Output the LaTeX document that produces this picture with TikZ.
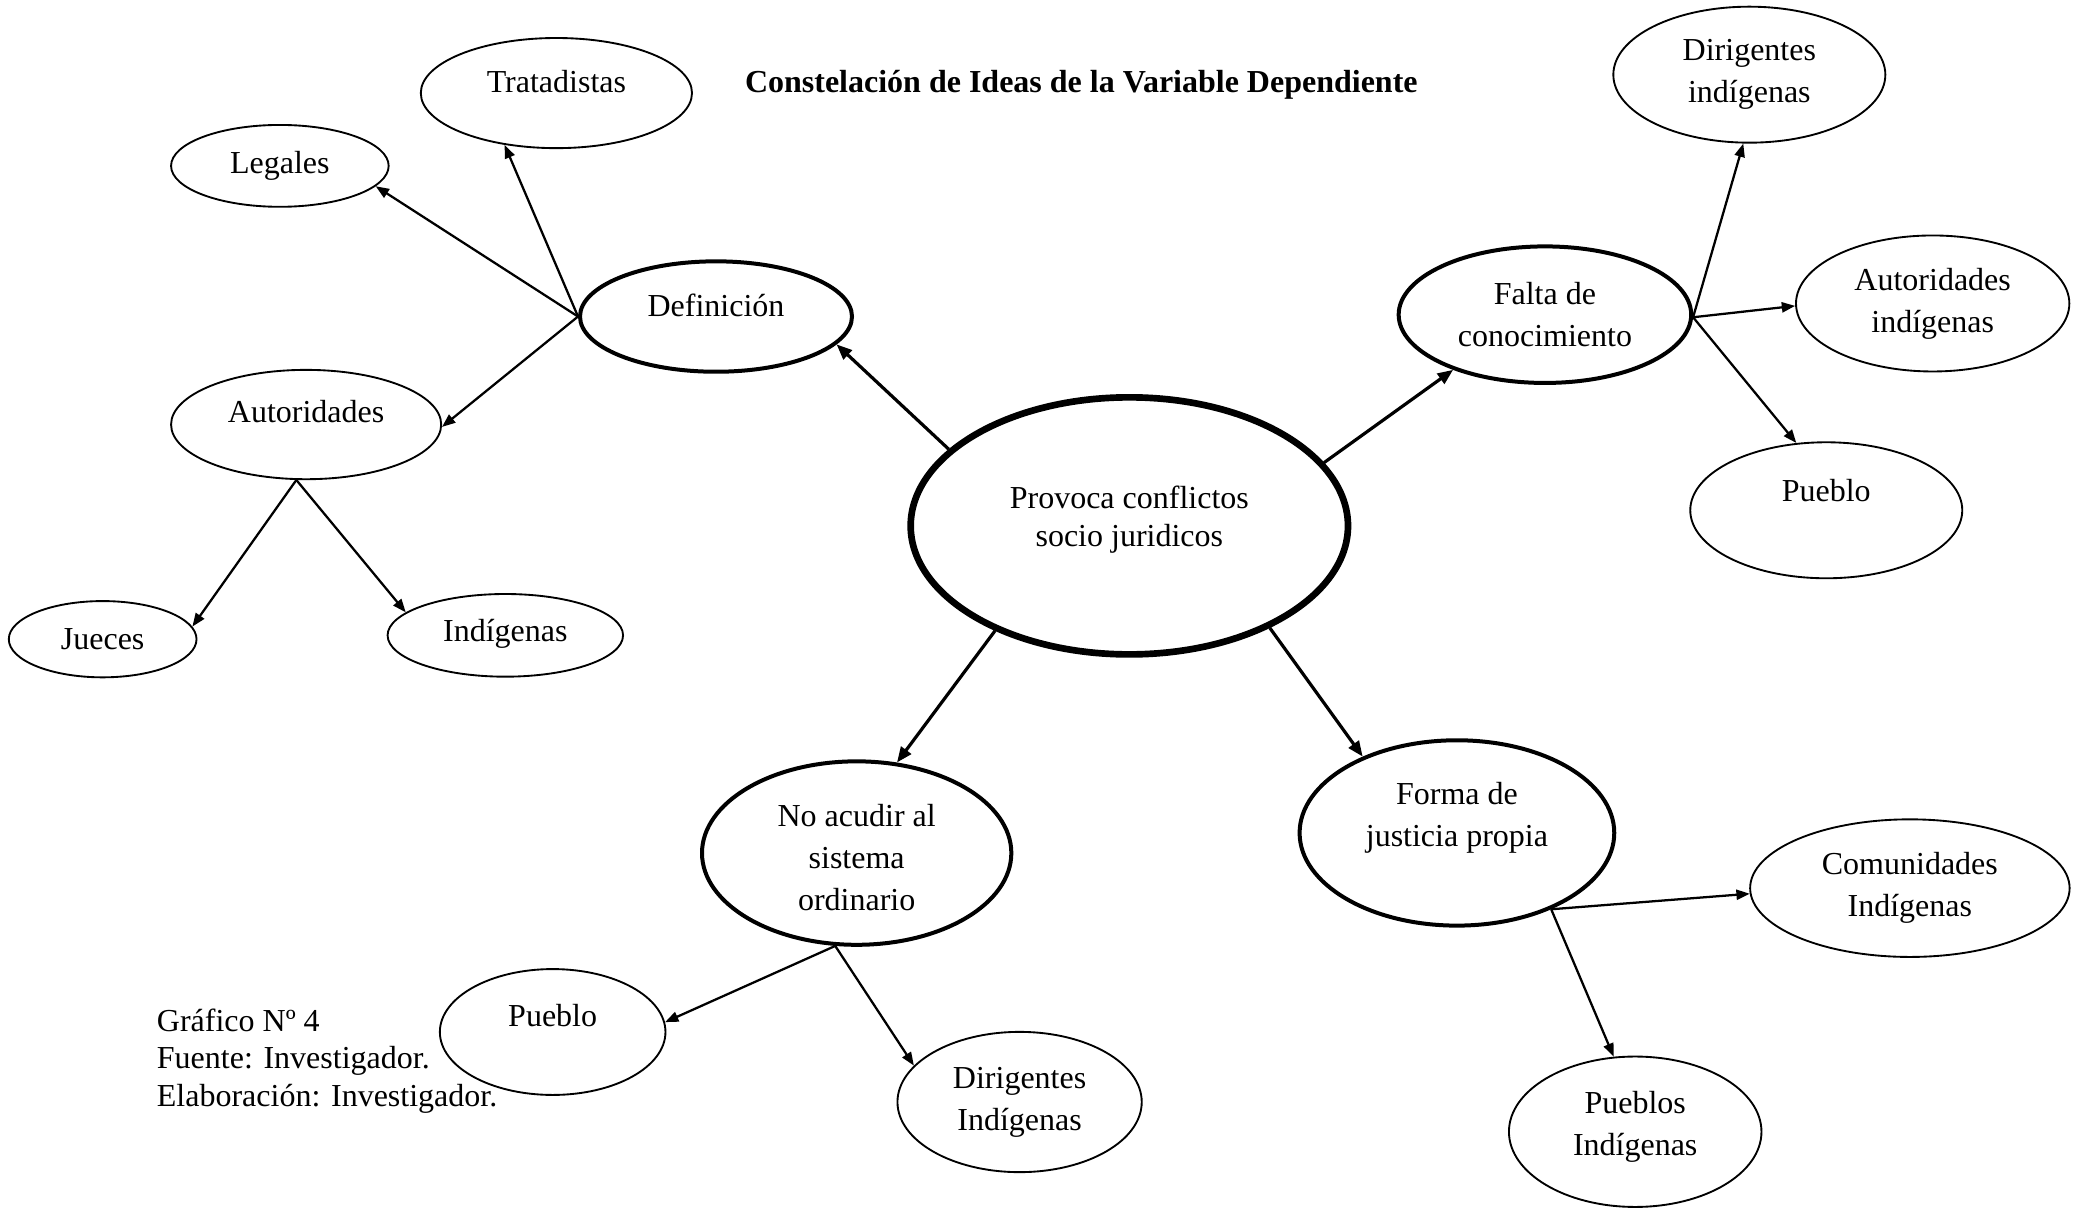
\documentclass[tikz,border=0pt]{standalone}
\usepackage{fontspec}
\setmainfont{Liberation Serif}
\usetikzlibrary{shapes.geometric,arrows.meta}
\begin{document}
\begin{tikzpicture}[x=0.5pt,y=-0.5pt,
  font=\fontsize{12pt}{15.75pt}\selectfont,
  ell/.style={draw,ellipse,inner sep=0pt,line width=0.7pt},
  ellthick/.style={ell,line width=1.5pt},
  ellmain/.style={ell,line width=2.5pt},
  arr/.style={-{Triangle[length=5pt,width=3.8pt]},line width=0.85pt},
  arrmain/.style={-{Triangle[length=5.8pt,width=4.6pt]},line width=1.2pt},
  every label/.style={align=center,inner sep=0pt}]
\useasboundingbox (0,0) rectangle (1562.25,906);

\node[font=\fontsize{12pt}{14pt}\selectfont\bfseries] (title) at (811,63.6) {Constelación de Ideas de la Variable Dependiente};

% central
\node[ellmain,minimum width=164pt,minimum height=96.4pt,
  label={[yshift=2.3pt,font=\fontsize{12pt}{14pt}\selectfont]center:Provoca conflictos\\socio juridicos}] (cen) at (847,394.4) {};

% Definicion branch
\node[ellthick,minimum width=102pt,minimum height=41.4pt,label={[yshift=4.3pt]center:Definición}] (def) at (537,237.4) {};
\node[ell,minimum width=101.7pt,minimum height=41.3pt,label={[yshift=4.25pt]center:Tratadistas}] (tra) at (417.3,69.8) {};
\node[ell,minimum width=81.6pt,minimum height=30.7pt,label={center:Legales}] (leg) at (209.9,124.4) {};
\node[ell,minimum width=101.3pt,minimum height=41pt,label={[yshift=4.75pt]center:Autoridades}] (aut) at (229.6,318.4) {};
\node[ell,minimum width=70.4pt,minimum height=28.6pt,label={center:Jueces}] (jue) at (77,479.4) {};
\node[ell,minimum width=88.3pt,minimum height=31pt,label={[yshift=0.5pt]center:Indígenas}] (ind) at (379,476.5) {};

% Falta branch
\node[ellthick,minimum width=109.7pt,minimum height=51.2pt,label={center:Falta de\\conocimiento}] (fal) at (1158.7,236) {};
\node[ell,minimum width=102pt,minimum height=51pt,label={center:Dirigentes\\indígenas}] (dir) at (1312,56) {};
\node[ell,minimum width=102.5pt,minimum height=51pt,label={center:Autoridades\\indígenas}] (aui) at (1449.5,227.6) {};
\node[ell,minimum width=102pt,minimum height=51pt,label={[yshift=7.5pt]center:Pueblo}] (pur) at (1369.7,382.7) {};

% No acudir branch
\node[ellthick,minimum width=116pt,minimum height=68.8pt,label={[yshift=-1.75pt]center:No acudir al\\sistema\\ordinario}] (noa) at (642.5,639.8) {};
\node[ell,minimum width=84.6pt,minimum height=47.2pt,label={[yshift=6pt]center:Pueblo}] (pul) at (414.5,774) {};
\node[ell,minimum width=91.6pt,minimum height=52.6pt,label={center:Dirigentes\\Indígenas}] (dii) at (764.7,826.5) {};

% Forma branch
\node[ellthick,minimum width=118pt,minimum height=69.5pt,label={[yshift=5.85pt]center:Forma de\\justicia propia}] (for) at (1092.7,624.7) {};
\node[ell,minimum width=119.8pt,minimum height=51.6pt,label={center:Comunidades\\Indígenas}] (com) at (1432.4,666.1) {};
\node[ell,minimum width=94.7pt,minimum height=56.4pt,label={[yshift=2pt]center:Pueblos\\Indígenas}] (pue) at (1226.4,848.8) {};

% note
\node[anchor=west,align=left,inner sep=0pt,font=\fontsize{12pt}{14pt}\selectfont] (note) at (117.3,795.7) {Gráfico Nº 4\\Fuente: Investigador.\\Elaboración: Investigador.};

% central arrows
\draw[arrmain] (cen.157.75) -- (def.-13.87);
\draw[arrmain] (cen.18.97) -- (fal.-149.67);
\draw[arrmain] (cen.-142.64) -- (noa.66.06);
\draw[arrmain] (cen.-36.7) -- (for.141.76);

% hubs
\coordinate (defhub) at (def.180);
\coordinate (authub) at (aut.-100.7);
\coordinate (falhub) at (fal.-1);
\coordinate (noahub) at (noa.-103.56);
\coordinate (forhub) at (for.-39.32);

\draw[arr] (defhub) -- (tra.-135.9);
\draw[arr] (defhub) -- (leg.-12.84);
\draw[arr] (defhub) -- (aut.-1);
\draw[arr] (authub) -- (jue.8.29);
\draw[arr] (authub) -- (ind.167.54);
\draw[arr] (falhub) -- (dir.-95.4);
\draw[arr] (falhub) -- (aui.181.3);
\draw[arr] (falhub) -- (pur.114);
\draw[arr] (noahub) -- (pul.5.4);
\draw[arr] (noahub) -- (dii.161.2);
\draw[arr] (forhub) -- (com.182.25);
\draw[arr] (forhub) -- (pue.106.13);
\end{tikzpicture}
\end{document}
